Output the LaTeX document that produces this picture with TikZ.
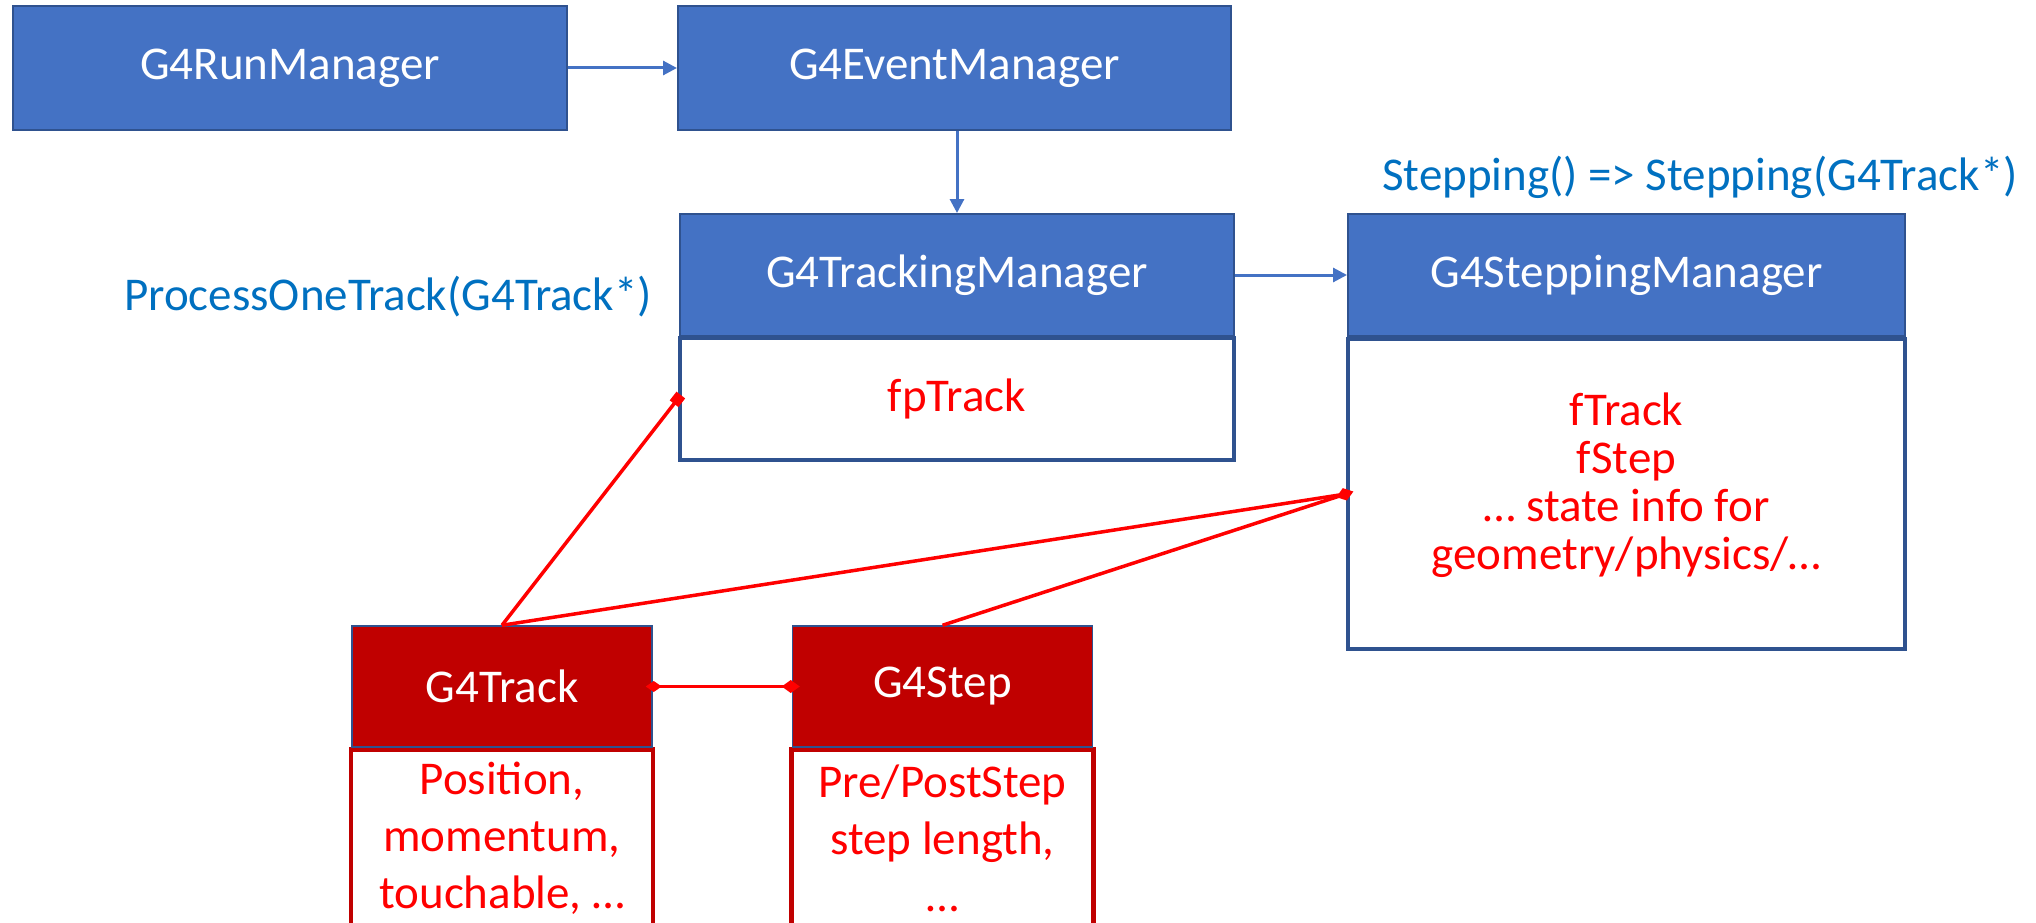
\documentclass[tikz,border=0pt]{standalone}
\usepackage{fontspec}
\setmainfont{Carlito}
\usetikzlibrary{arrows.meta}
\definecolor{hdrblue}{HTML}{4472C4}
\definecolor{edgeblue}{HTML}{2F528F}
\definecolor{txtblue}{HTML}{0070C0}
\definecolor{dkred}{HTML}{C00000}
\definecolor{brred}{HTML}{FF0000}
\begin{document}
\begin{tikzpicture}[x=1pt,y=-1pt,
  bigfont/.style={font=\fontsize{47}{57}\selectfont},
  hdr/.style={draw=edgeblue, line width=2pt, fill=hdrblue, text=white, bigfont, inner sep=0pt},
  redhdr/.style={draw=edgeblue, line width=1.5pt, fill=dkred, text=white, bigfont, inner sep=0pt},
  body/.style={draw=edgeblue, line width=4.5pt, fill=white, text=brred, bigfont, inner sep=0pt, align=center},
  redbody/.style={draw=dkred, line width=4.5pt, fill=white, text=brred, bigfont, inner sep=0pt, align=center},
  note/.style={text=txtblue, bigfont, inner sep=0pt},
  flow/.style={draw=hdrblue, line width=3pt, -{Triangle[length=14pt,width=14pt]}},
  link/.style={draw=brred, line width=3.5pt}
]
\useasboundingbox (0,0) rectangle (2036,923);

% top row
\node[hdr, minimum width=554pt, minimum height=124pt] (run) at (290,68) {G4RunManager};
\node[hdr, minimum width=553pt, minimum height=124pt] (event) at (954.5,68) {G4EventManager};

% tracking manager
\node[hdr, minimum width=554pt, minimum height=122pt] (trk) at (957,275) {G4TrackingManager};
\node[body, minimum width=554pt, minimum height=122pt] (trkbody) at (957,399) {fpTrack};

% stepping manager
\node[hdr, minimum width=557pt, minimum height=122pt] (stp) at (1626.5,275) {G4SteppingManager};
\node[body, minimum width=557pt, minimum height=310pt] (stpbody) at (1626.5,494) {};
\node[text=brred, font=\fontsize{47}{48}\selectfont, align=center, inner sep=0pt] (stptext) at (1626.5,485.5)
  {fTrack\\fStep\\\ldots\ state info for\\geometry/physics/\ldots};

% labels
\node[note] (stplabel) at (1700,177) {Stepping() => Stepping(G4Track*)};
\node[note] (trklabel) at (388,297) {ProcessOneTrack(G4Track*)};

% bottom classes
\node[redbody, minimum width=302pt, minimum height=220pt, anchor=north] (g4tbody) at (502,747) {};
\node[redbody, minimum width=302pt, minimum height=220pt, anchor=north] (g4sbody) at (942.5,747) {};
\node[redhdr, minimum width=300pt, minimum height=121pt] (g4t) at (502,686.5) {G4Track};
\node[redhdr, minimum width=300pt, minimum height=121pt] (g4s) at (942.5,686.5) {G4Step};
\node[text=brred, bigfont, align=center, inner sep=0pt] (g4ttext) at (502,838) {Position,\\momentum,\\touchable, \ldots};
\node[text=brred, bigfont, align=center, inner sep=0pt] (g4stext) at (942.5,838) {Pre/PostStep\\step length,\\\ldots};

% flow arrows
\draw[flow] (run.east) -- (event.west);
\draw[flow] (event.south -| trk.north) -- (trk.north);
\draw[flow] (trk.east) -- (stp.west);

% red links
\draw[link, {Square[length=11pt,width=11pt]}-, shorten <=-5pt] (trkbody.west) -- (g4t.north);
\draw[link] (g4t.north) -- (stpbody.west);
\draw[link, -{Diamond[length=18pt,width=13pt]}, shorten >=-8pt] (g4s.north) -- (stpbody.west);
\draw[link, {Diamond[length=16pt,width=11pt]}-{Diamond[length=18pt,width=13pt]}, shorten <=-7pt, shorten >=-8pt] (g4t.east) -- (g4s.west);
\end{tikzpicture}
\end{document}
